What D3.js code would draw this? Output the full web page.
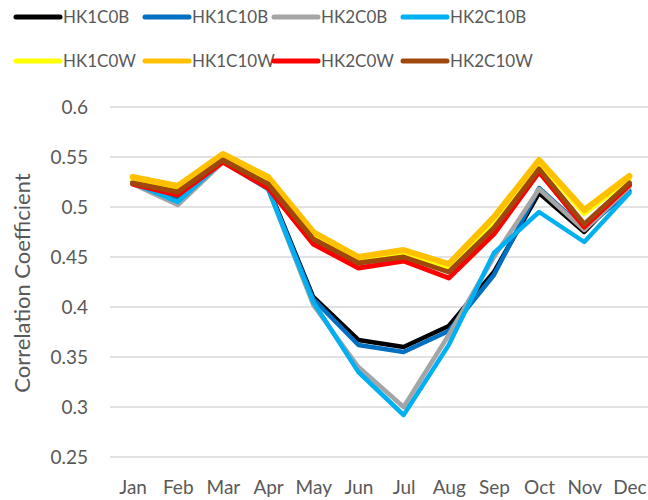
<!DOCTYPE html>
<html><head><meta charset="utf-8">
<script src="https://cdn.jsdelivr.net/npm/d3@7"></script>
<style>body{margin:0;background:#fff}svg{display:block}</style>
</head><body>
<svg id="c" width="648" height="500"></svg>
<script>
const months = ["Jan","Feb","Mar","Apr","May","Jun","Jul","Aug","Sep","Oct","Nov","Dec"];
const yTicks = [0.25,0.3,0.35,0.4,0.45,0.5,0.55,0.6];
const seriesNames = ["HK1C0B","HK1C10B","HK2C0B","HK2C10B","HK1C0W","HK1C10W","HK2C0W","HK2C10W"];
const seriesColors = ["#000000","#0070c0","#a5a5a5","#00b0f0","#ffff00","#ffc000","#ff0000","#9e480e"];
const HK1C0B  = [0.525,0.510,0.546,0.520,0.410,0.367,0.360,0.381,0.435,0.514,0.475,0.522];
const HK1C10B = [0.524,0.509,0.546,0.519,0.408,0.362,0.355,0.376,0.432,0.519,0.478,0.516];
const HK2C0B  = [0.523,0.502,0.545,0.518,0.402,0.340,0.300,0.372,0.450,0.518,0.477,0.520];
const HK2C10B = [0.524,0.505,0.546,0.518,0.405,0.335,0.292,0.362,0.454,0.495,0.465,0.514];
const HK1C0W  = [0.527,0.517,0.550,0.527,0.471,0.447,0.454,0.439,0.485,0.544,0.493,0.528];
const HK1C10W = [0.530,0.521,0.553,0.530,0.475,0.450,0.457,0.443,0.490,0.547,0.497,0.531];
const HK2C0W  = [0.523,0.512,0.545,0.519,0.463,0.439,0.446,0.429,0.473,0.535,0.480,0.522];
const HK2C10W = [0.524,0.515,0.547,0.523,0.468,0.444,0.450,0.435,0.479,0.538,0.483,0.524];
const seriesValues = [HK1C0B,HK1C10B,HK2C0B,HK2C10B,HK1C0W,HK1C10W,HK2C0W,HK2C10W];

(function(){
const svg = d3.select("#c");
const font = "Lato, 'Open Sans', sans-serif";
const txt = "#595959";
const pL = 110, pR = 652, pT = 107, pB = 457;
const x = d3.scalePoint().domain(months).range([pL, pR]).padding(0.5);
const y = d3.scaleLinear().domain([0.25, 0.6]).range([pB, pT]);

svg.append("g").selectAll("line").data(yTicks).join("line")
  .attr("x1", pL).attr("x2", pR)
  .attr("y1", d => y(d)).attr("y2", d => y(d))
  .attr("stroke", "#d9d9d9").attr("stroke-width", 1.5);

const yAxis = d3.axisLeft(y).tickValues(yTicks).tickSize(0).tickPadding(0).tickFormat(d => String(+d.toFixed(2)));
const ya = svg.append("g").attr("transform", `translate(${pL-22},0)`).call(yAxis);
ya.select(".domain").remove();
ya.selectAll("text").attr("font-family", font).attr("font-size", 19).attr("fill", txt);

const xAxis = d3.axisBottom(x).tickSize(0).tickPadding(0);
const xa = svg.append("g").attr("transform", `translate(0,${pB+23})`).call(xAxis);
xa.select(".domain").remove();
xa.selectAll("text").attr("font-family", font).attr("font-size", 19).attr("fill", txt);

svg.append("text").attr("transform", "translate(30,283) rotate(-90)")
  .attr("text-anchor", "middle").attr("font-family", font).attr("font-size", 22)
  .attr("fill", txt).text("Correlation Coefficient");

const line = d3.line().x((d, i) => x(months[i])).y(d => y(d));
const widths = [4.5,4.5,4.5,4.5,4.5,6,5,5];
svg.append("g").selectAll("path").data(seriesValues).join("path")
  .attr("d", d => line(d)).attr("fill", "none")
  .attr("stroke", (d, i) => seriesColors[i]).attr("stroke-width", (d, i) => widths[i])
  .attr("stroke-linejoin", "round").attr("stroke-linecap", "round");

const colX = [16, 145, 274, 403];
const rowY = [17, 61];
const lg = svg.append("g").selectAll("g").data(seriesNames).join("g")
  .attr("transform", (d, i) => `translate(${colX[i % 4]},${rowY[Math.floor(i / 4)]})`);
lg.append("line").attr("x1", 0).attr("x2", 44).attr("y1", 0).attr("y2", 0)
  .attr("stroke", (d, i) => seriesColors[i]).attr("stroke-width", 5).attr("stroke-linecap", "round");
lg.append("text").attr("x", 47).attr("y", 0).attr("dy", "0.35em")
  .attr("font-family", font).attr("font-size", 17).attr("fill", txt).text(d => d);
})();
</script>
</body></html>
